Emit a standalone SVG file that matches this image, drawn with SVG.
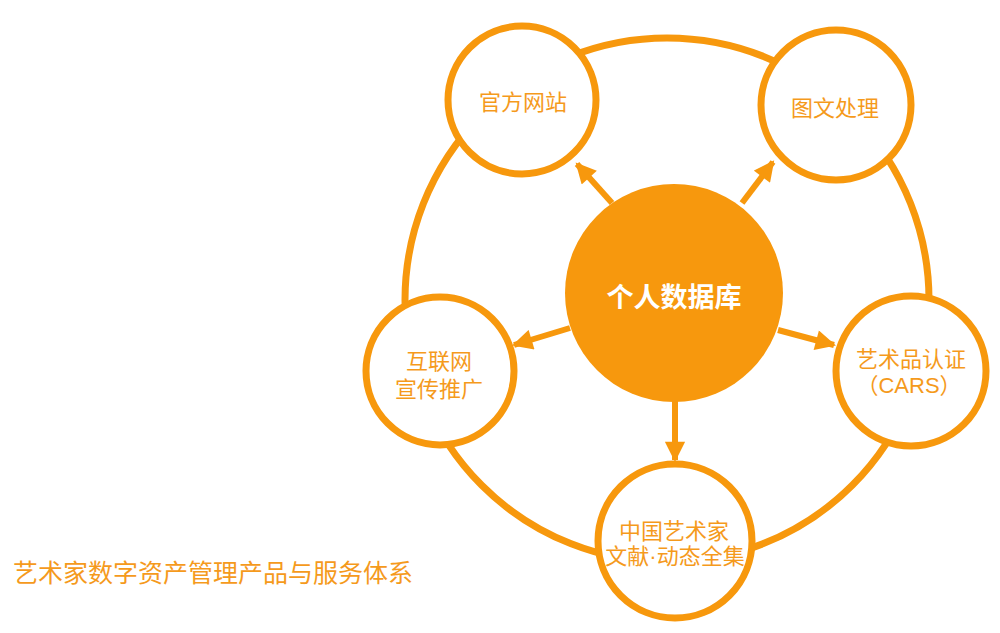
<svg xmlns="http://www.w3.org/2000/svg" width="1000" height="633" viewBox="0 0 1000 633">
<defs>
<style>
.ring{fill:none;stroke:#F7980D;stroke-width:7}
.node{fill:#FFFFFF;stroke:#F7980D;stroke-width:7}
.hub{fill:#F7980D;stroke:none}
.lbl{font-family:"Liberation Sans","Noto Sans CJK SC",sans-serif;font-size:22px;fill:#F59A1C;text-anchor:middle}
.hubt{font-family:"Liberation Sans","Noto Sans CJK SC",sans-serif;font-size:27px;font-weight:bold;fill:#FFFFFF;text-anchor:middle}
.title{font-family:"Liberation Sans","Noto Sans CJK SC",sans-serif;font-size:25px;fill:#F59A1C}
.arr{stroke:#F7980D;stroke-width:6;fill:none}
</style>
<marker id="ah" viewBox="0 0 10 10" refX="9" refY="5" markerWidth="3.6" markerHeight="3.4" orient="auto" markerUnits="strokeWidth">
<path d="M0,0 L10,5 L0,10 Z" fill="#F7980D"/>
</marker>
</defs>
<rect width="1000" height="633" fill="#FFFFFF"/>
<g id="ring">
<circle class="ring" cx="667" cy="300" r="262"/>
</g>
<g id="connectors">
<line class="arr" x1="612" y1="203" x2="577" y2="164" marker-end="url(#ah)"/>
<line class="arr" x1="742" y1="203" x2="773" y2="162" marker-end="url(#ah)"/>
<line class="arr" x1="570" y1="328" x2="514" y2="345" marker-end="url(#ah)"/>
<line class="arr" x1="778" y1="330" x2="834" y2="345" marker-end="url(#ah)"/>
<line class="arr" x1="675" y1="400" x2="675" y2="460" marker-end="url(#ah)"/>
</g>
<g id="hub">
<circle class="hub" cx="674" cy="293" r="109"/>
<text class="hubt" x="674" y="307">个人数据库</text>
</g>
<g id="node-website">
<circle class="node" cx="522" cy="100" r="74"/>
<text class="lbl" x="523" y="110">官方网站</text>
</g>
<g id="node-image">
<circle class="node" cx="836" cy="105" r="75"/>
<text class="lbl" x="835" y="116">图文处理</text>
</g>
<g id="node-internet">
<circle class="node" cx="440" cy="371" r="74"/>
<text class="lbl" x="439" y="369">互联网</text>
<text class="lbl" x="439" y="397">宣传推广</text>
</g>
<g id="node-cars">
<circle class="node" cx="911" cy="371" r="75"/>
<text class="lbl" x="911" y="367">艺术品认证</text>
<text class="lbl" x="909" y="393">（CARS）</text>
</g>
<g id="node-archive">
<circle class="node" cx="675" cy="541" r="77"/>
<text class="lbl" x="674" y="539">中国艺术家</text>
<text class="lbl" x="675" y="564">文献·动态全集</text>
</g>
<g id="title">
<text class="title" x="13" y="582">艺术家数字资产管理产品与服务体系</text>
</g>
</svg>
